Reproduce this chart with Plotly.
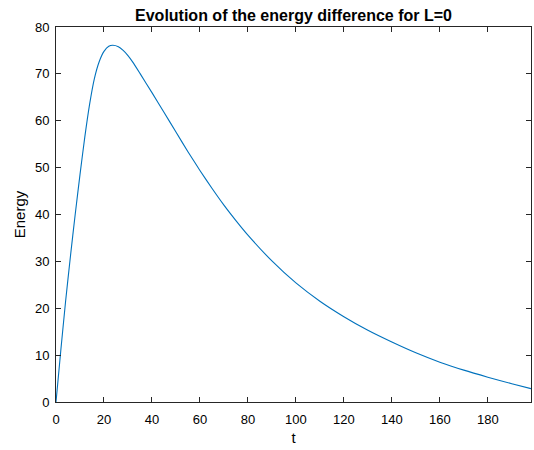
import plotly.graph_objects as go

t_vals = [0, 2, 4, 6, 8, 10, 12, 14, 16, 18, 20, 22, 23.7, 26, 28, 30, 32, 35,
          40, 45, 50, 55, 60, 65, 70, 75, 80, 90, 100, 110, 120, 130, 140, 150,
          160, 170, 180, 190, 198]
energy = [0, 11, 21.5, 31, 40, 48.5, 56.5, 63.5, 69, 72.6, 74.8, 75.9, 76.1,
          75.8, 75.0, 73.9, 72.5, 70.1, 66.0, 61.8, 57.6, 53.4, 49.4, 45.6, 42.0,
          38.7, 35.6, 30.1, 25.4, 21.5, 18.2, 15.3, 12.8, 10.5, 8.5, 6.8, 5.3,
          3.9, 2.85]

x_ticks = list(range(0, 181, 20))
y_ticks = list(range(0, 81, 10))

font = "Liberation Sans, Arial, Helvetica, sans-serif"
axcol = "#262626"

fig = go.Figure()
fig.add_trace(go.Scatter(x=t_vals, y=energy, mode="lines", hoverinfo="skip",
                         line=dict(color="#0072BD", width=1.1, shape="spline", smoothing=0.6)))

common = dict(showline=True, linecolor=axcol, linewidth=1, mirror="ticks",
              ticks="inside", ticklen=5, tickcolor=axcol, tickwidth=1,
              showgrid=False, zeroline=False, automargin=False,
              tickfont=dict(family=font, size=13, color="#000"))

fig.update_layout(
    width=534, height=450,
    margin=dict(l=56, r=3, t=27, b=48),
    paper_bgcolor="white", plot_bgcolor="white",
    showlegend=False,
    title=dict(text="<b>Evolution of the energy difference for L=0</b>",
               x=0.5, xref="paper", xanchor="center",
               y=1 - 15 / 450, yref="container", yanchor="middle",
               automargin=False,
               font=dict(family=font, size=16, color="#000")),
    xaxis=dict(range=[0, 198], tickvals=x_ticks, ticklabelstandoff=5,
               title=dict(text="t", font=dict(family=font, size=15, color="#000"), standoff=6),
               **common),
    yaxis=dict(range=[0, 80], tickvals=y_ticks, ticklabelstandoff=3,
               title=dict(text="Energy", font=dict(family=font, size=15, color="#000"), standoff=5),
               **common),
)

fig.write_html("out.html", config={"displayModeBar": False, "staticPlot": True},
               post_script="document.body.style.margin='0';")
